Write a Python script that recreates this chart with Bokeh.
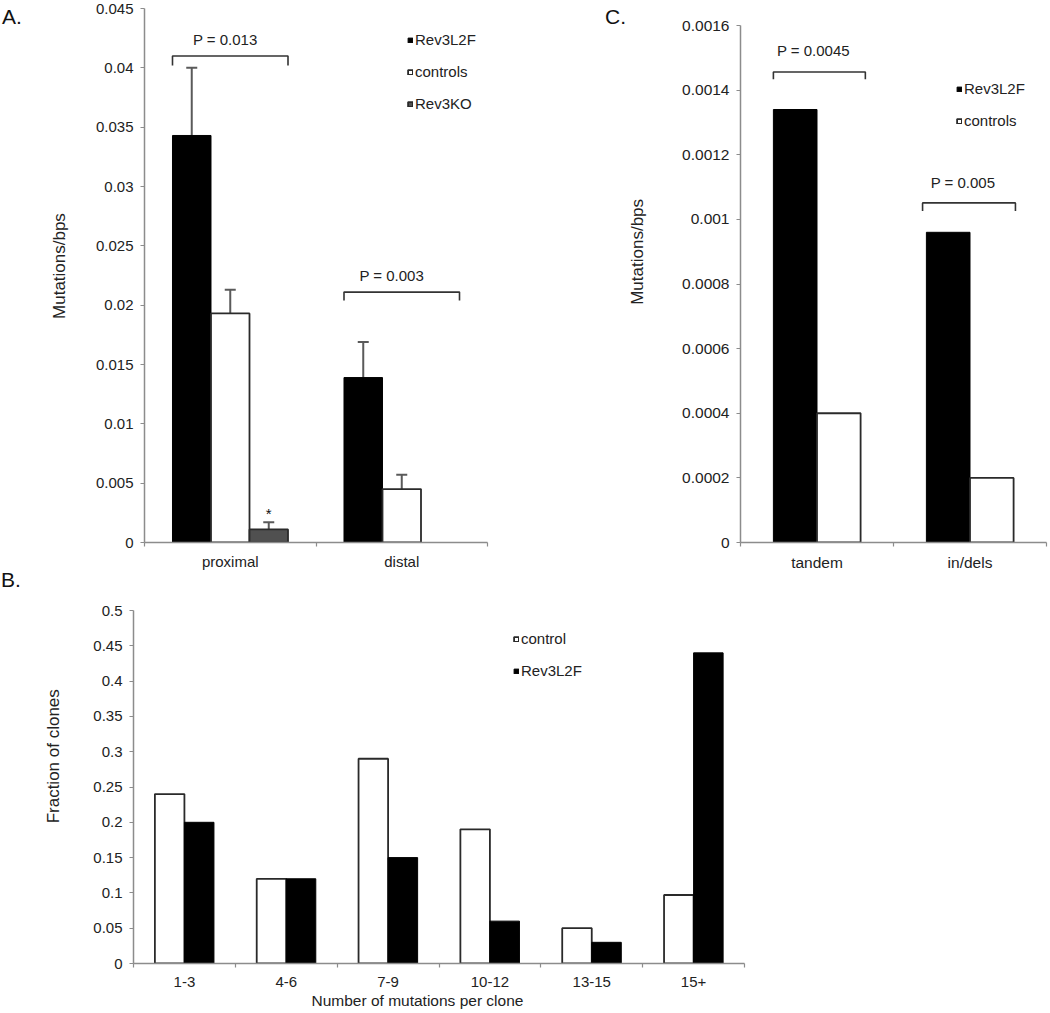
from bokeh.plotting import figure
from bokeh.models import (ColumnDataSource, Range1d, FixedTicker, NumeralTickFormatter,
                          Legend, LegendItem, Whisker, TeeHead, Div)
from bokeh.layouts import column, row
from bokeh.embed import file_html
from bokeh.resources import INLINE
from bokeh.core.properties import value

FONT = "Liberation Sans"
AXIS_GRAY = "#8c8c8c"
TEXT_COLOR = "#222222"
EDGE = "#2a2a2a"
NB = "\u00a0"  # non-breaking space, used to nudge axis titles off-centre like Excel

# ---------------- Panel A data ----------------
a_categories = ["proximal", "distal"]
a_rev3l2f = [0.0343, 0.0139]
a_rev3l2f_err = [0.0057, 0.0030]
a_controls = [0.0193, 0.0045]
a_controls_err = [0.0020, 0.0012]
a_rev3ko_categories = ["proximal"]
a_rev3ko = [0.0011]
a_rev3ko_err = [0.0006]
a_yticks = [0, 0.005, 0.01, 0.015, 0.02, 0.025, 0.03, 0.035, 0.04, 0.045]
a_pvalues = ["P = 0.013", "P = 0.003"]

# ---------------- Panel C data ----------------
c_categories = ["tandem", "in/dels"]
c_rev3l2f = [0.00134, 0.00096]
c_controls = [0.0004, 0.0002]
c_yticks = [0, 0.0002, 0.0004, 0.0006, 0.0008, 0.001, 0.0012, 0.0014, 0.0016]
c_pvalues = ["P = 0.0045", "P = 0.005"]

# ---------------- Panel B data ----------------
b_categories = ["1-3", "4-6", "7-9", "10-12", "13-15", "15+"]
b_control = [0.24, 0.12, 0.29, 0.19, 0.05, 0.097]
b_rev3l2f = [0.20, 0.12, 0.15, 0.06, 0.03, 0.44]
b_yticks = [0, 0.05, 0.1, 0.15, 0.2, 0.25, 0.3, 0.35, 0.4, 0.45, 0.5]


def style(p, cats, yticks, yfmt, ylabel, ylabel_size, ylabel_standoff,
          tick_size="15px", xstandoff=6, xlabel=None):
    p.xgrid.visible = False
    p.ygrid.visible = False
    p.outline_line_color = None
    p.background_fill_color = "white"
    p.border_fill_color = "white"
    ya = p.yaxis[0]
    ya.ticker = FixedTicker(ticks=yticks)
    ya.formatter = NumeralTickFormatter(format=yfmt)
    ya.bounds = (min(yticks), max(yticks))
    ya.axis_line_color = AXIS_GRAY
    ya.axis_line_width = 1.5
    ya.major_tick_line_color = AXIS_GRAY
    ya.major_tick_line_width = 1.2
    ya.major_tick_out = 4
    ya.major_tick_in = 0
    ya.minor_tick_line_color = None
    ya.major_label_standoff = 7
    ya.major_label_text_font = FONT
    ya.major_label_text_font_size = tick_size
    ya.major_label_text_color = TEXT_COLOR
    ya.axis_label = ylabel
    ya.axis_label_text_font = FONT
    ya.axis_label_text_font_size = ylabel_size
    ya.axis_label_text_font_style = "normal"
    ya.axis_label_text_color = TEXT_COLOR
    ya.axis_label_standoff = ylabel_standoff

    n = len(cats)
    xa = p.xaxis[0]
    xa.ticker = FixedTicker(ticks=list(range(n)),
                            minor_ticks=[k - 0.5 for k in range(n + 1)])
    xa.major_label_overrides = {i: c for i, c in enumerate(cats)}
    xa.axis_line_color = AXIS_GRAY
    xa.axis_line_width = 1.5
    xa.major_tick_line_color = None
    xa.major_tick_out = 0
    xa.major_tick_in = 0
    xa.minor_tick_line_color = AXIS_GRAY
    xa.minor_tick_line_width = 1.2
    xa.minor_tick_out = 4
    xa.minor_tick_in = 0
    xa.major_label_standoff = xstandoff
    xa.major_label_text_font = FONT
    xa.major_label_text_font_size = tick_size
    xa.major_label_text_color = TEXT_COLOR
    if xlabel:
        xa.axis_label = xlabel
        xa.axis_label_text_font = FONT
        xa.axis_label_text_font_size = "15.5px"
        xa.axis_label_text_font_style = "normal"
        xa.axis_label_text_color = TEXT_COLOR
        xa.axis_label_standoff = 2


def make_legend(items, loc, spacing):
    return Legend(items=items, location=loc, orientation="vertical",
                  glyph_width=6, glyph_height=6, label_standoff=2,
                  spacing=spacing, padding=0, margin=0,
                  border_line_color=None, background_fill_alpha=0,
                  label_text_font=FONT, label_text_font_size="15px",
                  label_text_color=TEXT_COLOR, label_height=12)


def bracket(p, x1, x2, ytop, drop, text, gap, xoff):
    p.line(x=[x1, x1, x2, x2], y=[ytop - drop, ytop, ytop, ytop - drop],
           line_color="#333333", line_width=1.6)
    p.text(x=[(x1 + x2) / 2], y=[ytop], text=[text], text_align="center",
           text_baseline="bottom", y_offset=-gap, x_offset=xoff,
           text_font=value(FONT), text_font_size=value("15px"),
           text_color=TEXT_COLOR)


def letter_div(txt, width, height, pad_top, pad_left, margin=0):
    html = ('<div style="font-family:\'Liberation Sans\',Arial,sans-serif;'
            'font-size:21px;line-height:24px;color:#111;margin:0;'
            f'padding:{pad_top}px 0 0 {pad_left}px;">{txt}</div>')
    return Div(text=html, width=width, height=height, margin=margin)


# shared frame of the top row (Bokeh aligns frames in a row)
TOP_BORDER, ROW_H, BOTTOM_BORDER = 8, 578, 36

# ====================== Panel A ======================
wa = 0.2245
pA = figure(width=556, height=ROW_H, output_backend="svg", toolbar_location=None,
            title=None,
            x_range=Range1d(-0.5, 1.5), y_range=Range1d(0, max(a_yticks)),
            min_border_left=120, min_border_right=93,
            min_border_top=TOP_BORDER, min_border_bottom=BOTTOM_BORDER)
style(pA, a_categories, a_yticks, "0.[000]", NB * 4 + "Mutations/bps", "17px", 24,
      xstandoff=6)

xa_idx = list(range(len(a_categories)))
srcA1 = ColumnDataSource(dict(x=[i - wa for i in xa_idx], top=a_rev3l2f,
                              up=[v + e for v, e in zip(a_rev3l2f, a_rev3l2f_err)]))
srcA2 = ColumnDataSource(dict(x=[i for i in xa_idx], top=a_controls,
                              up=[v + e for v, e in zip(a_controls, a_controls_err)]))
ko_idx = [a_categories.index(c) for c in a_rev3ko_categories]
srcA3 = ColumnDataSource(dict(x=[i + wa for i in ko_idx], top=a_rev3ko,
                              up=[v + e for v, e in zip(a_rev3ko, a_rev3ko_err)]))

for s in (srcA1, srcA2, srcA3):
    pA.add_layout(Whisker(source=s, base="x", lower="top", upper="up",
                          line_color="#5a5a5a", line_width=2, lower_head=None,
                          upper_head=TeeHead(size=11, line_color="#5a5a5a", line_width=2),
                          level="underlay"))

rA1 = pA.vbar(x="x", top="top", width=wa, source=srcA1, fill_color="black",
              line_color="black", line_width=1)
rA2 = pA.vbar(x="x", top="top", width=wa, source=srcA2, fill_color="white",
              line_color=EDGE, line_width=1.8)
rA3 = pA.vbar(x="x", top="top", width=wa, source=srcA3, fill_color="#505050",
              line_color=EDGE, line_width=1.8)

pA.text(x="x", y="up", text=value("*"), source=srcA3, text_align="center",
        text_baseline="bottom", y_offset=0, text_font=value(FONT),
        text_font_size=value("15px"), text_color="#111111")

bracket(pA, 0 - 1.5 * wa, 0 + 1.5 * wa, 0.0410, 0.0008, a_pvalues[0], 8, -5)
bracket(pA, 1 - 1.5 * wa, 1 + 1.5 * wa, 0.0211, 0.0007, a_pvalues[1], 8, -10)

pA.add_layout(make_legend([LegendItem(label="Rev3L2F", renderers=[rA1]),
                           LegendItem(label="controls", renderers=[rA2]),
                           LegendItem(label="Rev3KO", renderers=[rA3])],
                          (263, 430), 15))

# ====================== Panel C ======================
wc = 0.285
c_frame_h = ROW_H - TOP_BORDER - BOTTOM_BORDER
c_top_gap = 17  # the C axis starts lower than the A axis
c_yend = max(c_yticks) * c_frame_h / (c_frame_h - c_top_gap)
pC = figure(width=423, height=ROW_H, output_backend="svg", toolbar_location=None,
            title=None,
            x_range=Range1d(-0.5, 1.5), y_range=Range1d(0, c_yend),
            min_border_left=109, min_border_right=2,
            min_border_top=TOP_BORDER, min_border_bottom=BOTTOM_BORDER)
style(pC, c_categories, c_yticks, "0.[0000]", NB * 10 + "Mutations/bps", "17px", 32,
      tick_size="15.5px", xstandoff=7)

xc_idx = list(range(len(c_categories)))
rC1 = pC.vbar(x=[i - wc / 2 for i in xc_idx], top=c_rev3l2f, width=wc,
              fill_color="black", line_color="black", line_width=1)
rC2 = pC.vbar(x=[i + wc / 2 for i in xc_idx], top=c_controls, width=wc,
              fill_color="white", line_color=EDGE, line_width=1.8)

bracket(pC, 0 - 0.285, 0 + 0.316, 0.001456, 0.000022, c_pvalues[0], 13, -6)
bracket(pC, 1 - 0.31, 1 + 0.297, 0.001051, 0.000025, c_pvalues[1], 12, -6)

pC.add_layout(make_legend([LegendItem(label="Rev3L2F", renderers=[rC1]),
                           LegendItem(label="controls", renderers=[rC2])],
                          (216, 413), 15))

# ====================== Panel B ======================
wb = 0.29
pB = figure(width=1028, height=434, output_backend="svg", toolbar_location=None,
            title=None,
            x_range=Range1d(-0.5, 5.5), y_range=Range1d(0, max(b_yticks)),
            min_border_left=113, min_border_right=304,
            min_border_top=32, min_border_bottom=49)
style(pB, b_categories, b_yticks, "0.[00]", NB * 13 + "Fraction of clones", "17px", 27,
      xstandoff=9, xlabel="Number of mutations per clone" + NB * 10)

xb_idx = list(range(len(b_categories)))
rB1 = pB.vbar(x=[i - wb / 2 for i in xb_idx], top=b_control, width=wb,
              fill_color="white", line_color=EDGE, line_width=1.8)
rB2 = pB.vbar(x=[i + wb / 2 for i in xb_idx], top=b_rev3l2f, width=wb,
              fill_color="black", line_color="black", line_width=1)

pB.add_layout(make_legend([LegendItem(label="control", renderers=[rB1]),
                           LegendItem(label="Rev3L2F", renderers=[rB2])],
                          (380, 284), 15))

divA = letter_div("A.", 24, 40, 5, 2)
divC = letter_div("C.", 45, 40, 5, 25)
divB = letter_div("B.", 20, 40, 0, 1, margin=(-10, 0, 0, 0))

layout = column(row(divA, pA, divC, pC), row(divB, pB))
open("out.html", "w").write(file_html(layout, INLINE))
